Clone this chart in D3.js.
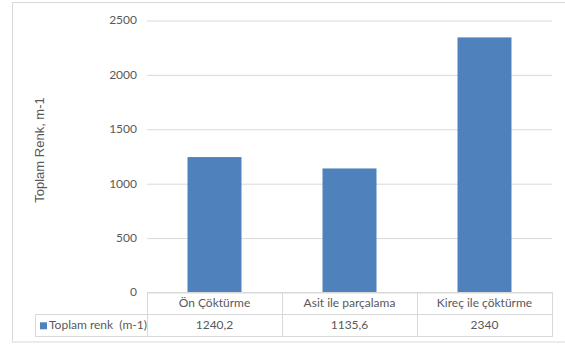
<!DOCTYPE html>
<html>
<head>
<meta charset="utf-8">
<script src="https://cdn.jsdelivr.net/npm/d3@7/dist/d3.min.js"></script>
<style>
  html, body { margin: 0; padding: 0; background: #fff; }
  svg { display: block; }
</style>
</head>
<body>
<svg id="chart" width="565" height="344"></svg>
<script>
// Total colour per treatment method
const categories = ["Ön Çöktürme", "Asit ile parçalama", "Kireç ile çöktürme"];
const values = [1240.2, 1135.6, 2340];
const valueLabels = ["1240,2", "1135,6", "2340"];
const yTicks = [0, 500, 1000, 1500, 2000, 2500];
const seriesName = "Toplam renk  (m-1)";
const yTitle = "Toplam Renk, m-1";

const svg = d3.select("#chart");
const W = 565, H = 344;
const plot = { left: 147, right: 552, top: 20, bottom: 292 };
const rowH = 22.3;
const legendLeft = 35;
const textColor = "#595959";
const gridColor = "#d9d9d9";
const barColor = "#4f81bd";
const tickFont = "Lato, 'Open Sans', sans-serif";

// outer frame
svg.append("rect")
  .attr("x", 12.5).attr("y", 2.5)
  .attr("width", W).attr("height", 339.5)
  .attr("fill", "#fff").attr("stroke", gridColor).attr("stroke-width", 1);

const x = d3.scaleBand().domain(categories).range([plot.left, plot.right]).paddingInner(0).paddingOuter(0);
const y = d3.scaleLinear().domain([0, 2500]).range([plot.bottom, plot.top]);

// horizontal gridlines with value labels
const yAxis = d3.axisLeft(y).tickValues(yTicks).tickSize(-(plot.right - plot.left)).tickPadding(10).tickFormat(d3.format("d"));
const gy = svg.append("g").attr("transform", `translate(${plot.left},0)`).call(yAxis);
gy.select(".domain").remove();
gy.selectAll(".tick line").attr("stroke", gridColor).attr("stroke-width", 1)
  .attr("transform", "translate(0,0.5)");
gy.selectAll(".tick text")
  .attr("fill", textColor).attr("font-family", tickFont).attr("font-size", 12);

// bars
const barW = x.bandwidth() * 0.4;
svg.append("g").selectAll("rect").data(values).join("rect")
  .attr("x", (d, i) => x(categories[i]) + (x.bandwidth() - barW) / 2)
  .attr("y", d => y(d))
  .attr("width", barW)
  .attr("height", d => y(0) - y(d))
  .attr("fill", barColor);

// data table below the plot
const tbl = svg.append("g").attr("stroke", gridColor).attr("stroke-width", 1).attr("shape-rendering", "crispEdges");
const r0 = plot.bottom, r1 = r0 + rowH, r2 = r1 + rowH;
tbl.append("line").attr("x1", plot.left).attr("x2", plot.right).attr("y1", r0).attr("y2", r0);
tbl.append("line").attr("x1", legendLeft).attr("x2", plot.right).attr("y1", r1).attr("y2", r1);
tbl.append("line").attr("x1", legendLeft).attr("x2", plot.right).attr("y1", r2).attr("y2", r2);
tbl.append("line").attr("x1", legendLeft).attr("x2", legendLeft).attr("y1", r1).attr("y2", r2);
const vx = categories.map(c => x(c)).concat([plot.right]);
tbl.selectAll(".v").data(vx).join("line")
  .attr("x1", d => d).attr("x2", d => d).attr("y1", r0).attr("y2", r2);

svg.append("g").selectAll("text").data(categories).join("text")
  .attr("x", d => x(d) + x.bandwidth() / 2)
  .attr("y", r0 + rowH / 2 + 4)
  .attr("text-anchor", "middle")
  .attr("fill", textColor).attr("font-family", tickFont).attr("font-size", 12)
  .text(d => d);

svg.append("g").selectAll("text").data(valueLabels).join("text")
  .attr("x", (d, i) => x(categories[i]) + x.bandwidth() / 2)
  .attr("y", r1 + rowH / 2 + 4)
  .attr("text-anchor", "middle")
  .attr("fill", textColor).attr("font-family", tickFont).attr("font-size", 12)
  .text(d => d);

// legend key in the table
svg.append("rect").attr("x", 40).attr("y", r1 + 8).attr("width", 7).attr("height", 7).attr("fill", barColor);
svg.append("text").attr("x", 49).attr("y", r1 + rowH / 2 + 4)
  .attr("fill", textColor).attr("font-family", tickFont).attr("font-size", 12)
  .attr("xml:space", "preserve").style("white-space", "pre")
  .text(seriesName);

// y-axis title
svg.append("text")
  .attr("transform", `translate(44,150) rotate(-90)`)
  .attr("text-anchor", "middle")
  .attr("fill", textColor).attr("font-family", "'Liberation Sans', Arial, sans-serif").attr("font-size", 13)
  .text(yTitle);
</script>
</body>
</html>
